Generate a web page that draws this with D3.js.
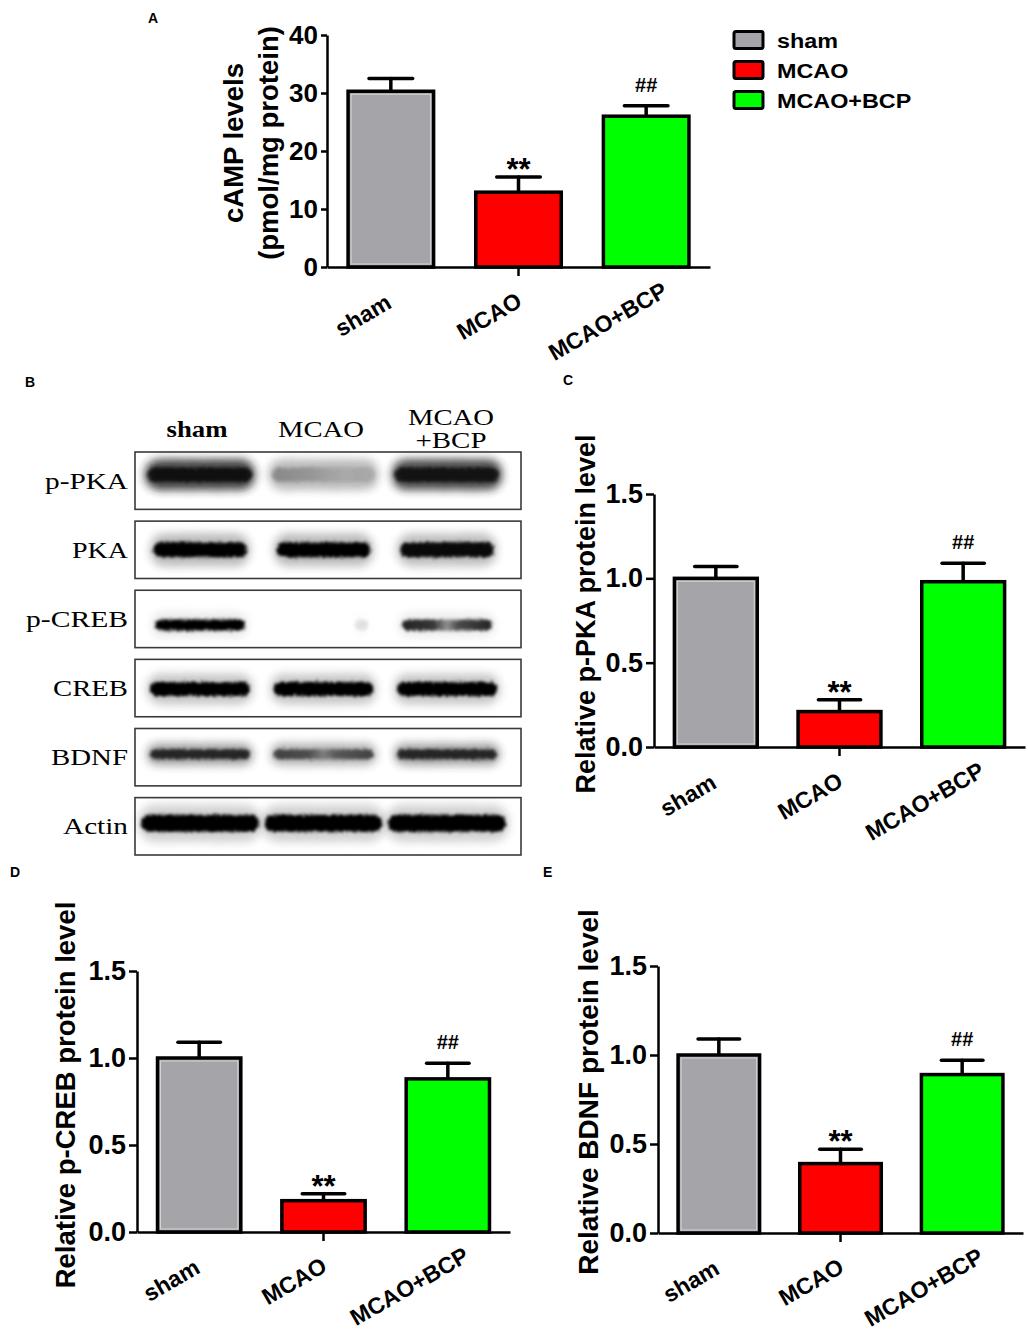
<!DOCTYPE html>
<html><head><meta charset="utf-8">
<script src="https://cdn.jsdelivr.net/npm/d3@7"></script>
<style>
body{margin:0;background:#fff;}
svg{display:block;}
</style></head><body>
<svg id="fig" width="1028" height="1339"></svg>
<script>
// ---------------- DATA ----------------
const groups = ["sham", "MCAO", "MCAO+BCP"];
const groupColors = ["#a5a4a9", "#ff0000", "#00ff00"];
const sigMarks = ["", "**", "##"];

const campMean = [30.3, 12.9, 26.0];
const campSem  = [2.2, 2.6, 1.8];
const campTicks = [0, 10, 20, 30, 40];

const pkaMean = [1.00, 0.21, 0.98];
const pkaSem  = [0.07, 0.07, 0.11];
const crebMean = [1.00, 0.18, 0.88];
const crebSem  = [0.09, 0.04, 0.09];
const bdnfMean = [1.00, 0.39, 0.89];
const bdnfSem  = [0.09, 0.08, 0.08];
const relTicks = [0, 0.5, 1.0, 1.5];

const blotRows = ["p-PKA", "PKA", "p-CREB", "CREB", "BDNF", "Actin"];
const blotLaneLabels = [["sham"], ["MCAO"], ["MCAO", "+BCP"]];
// band darkness (0..1) per row, lanes sham / MCAO / MCAO+BCP
const bandPPKA  = [0.95, 0.35, 0.92];
const bandPKA   = [1.00, 1.00, 0.95];
const bandPCREB = [1.00, 0.10, 0.85];
const bandCREB  = [1.00, 1.00, 1.00];
const bandBDNF  = [0.85, 0.70, 0.85];
const bandActin = [1.00, 1.00, 1.00];
const bandData = [bandPPKA, bandPKA, bandPCREB, bandCREB, bandBDNF, bandActin];

// ---------------- DRAWING ----------------
const SANS = "'Liberation Sans', Arial, Helvetica, sans-serif";
const SERIF = "'Liberation Serif', 'Times New Roman', serif";
const svg = d3.select("#fig");
svg.append("rect").attr("width", 1028).attr("height", 1339).attr("fill", "#fff");

const defs = svg.append("defs");
const f1 = defs.append("filter").attr("id", "bandF").attr("x", "-20%").attr("y", "-150%").attr("width", "140%").attr("height", "400%");
f1.append("feTurbulence").attr("type", "fractalNoise").attr("baseFrequency", "0.55").attr("numOctaves", 2).attr("seed", 3).attr("result", "noise");
f1.append("feDisplacementMap").attr("in", "SourceGraphic").attr("in2", "noise").attr("scale", 6).attr("xChannelSelector", "R").attr("yChannelSelector", "G").attr("result", "disp");
f1.append("feGaussianBlur").attr("in", "disp").attr("stdDeviation", 1.4);
const f2 = defs.append("filter").attr("id", "haloF").attr("x", "-30%").attr("y", "-200%").attr("width", "160%").attr("height", "500%");
f2.append("feTurbulence").attr("type", "fractalNoise").attr("baseFrequency", "0.9").attr("numOctaves", 1).attr("seed", 7).attr("result", "n2");
f2.append("feDisplacementMap").attr("in", "SourceGraphic").attr("in2", "n2").attr("scale", 8).attr("xChannelSelector", "R").attr("yChannelSelector", "G").attr("result", "d2");
f2.append("feGaussianBlur").attr("in", "d2").attr("stdDeviation", 4.5);

// gradients for uneven bands
const fade = defs.append("linearGradient").attr("id", "fadeGrad");
[[0, 1], [0.35, 0.75], [0.7, 0.35], [1, 0.4]].forEach(s => fade.append("stop").attr("offset", s[0]).attr("stop-color", "#111").attr("stop-opacity", s[1]));
const dip = defs.append("linearGradient").attr("id", "dipGrad");
[[0, 1], [0.35, 0.9], [0.5, 0.45], [0.62, 0.8], [1, 1]].forEach(s => dip.append("stop").attr("offset", s[0]).attr("stop-color", "#050505").attr("stop-opacity", s[1]));

function barPanel(cfg) {
  const g = svg.append("g");
  const x = d3.scaleBand().domain(groups).range([cfg.x0, cfg.x1]).paddingInner(0.33).paddingOuter(0.165);
  const y = d3.scaleLinear().domain([0, cfg.max]).range([cfg.yb, cfg.yt]);
  const bw = x.bandwidth();

  // error bars (upper only)
  const eg = g.append("g").attr("stroke", "#000").attr("stroke-width", 3.5).attr("stroke-linecap", "round");
  groups.forEach((d, i) => {
    const cx = x(d) + bw / 2;
    eg.append("line").attr("x1", cx).attr("x2", cx).attr("y1", y(cfg.mean[i])).attr("y2", y(cfg.mean[i] + cfg.sem[i]));
    eg.append("line").attr("x1", cx - bw * 0.255).attr("x2", cx + bw * 0.255)
      .attr("y1", y(cfg.mean[i] + cfg.sem[i])).attr("y2", y(cfg.mean[i] + cfg.sem[i]));
  });

  // bars
  g.selectAll("rect.bar").data(groups).join("rect").attr("class", "bar")
    .attr("x", d => x(d)).attr("width", bw)
    .attr("y", (d, i) => y(cfg.mean[i])).attr("height", (d, i) => y(0) - y(cfg.mean[i]))
    .attr("fill", (d, i) => groupColors[i]).attr("stroke", "#000").attr("stroke-width", 3.5);
  // light inner edge on the grey bar
  g.append("rect").attr("x", x(groups[0]) + 3).attr("y", y(cfg.mean[0]) + 3)
    .attr("width", bw - 6).attr("height", y(0) - y(cfg.mean[0]) - 6)
    .attr("fill", "none").attr("stroke", "#d4d4d6").attr("stroke-width", 1);

  // significance marks
  groups.forEach((d, i) => {
    const m = sigMarks[i];
    if (!m) return;
    const top = y(cfg.mean[i] + cfg.sem[i]);
    g.append("text").attr("x", x(d) + bw / 2)
      .attr("y", m === "**" ? top + 3 : top - 14)
      .attr("text-anchor", "middle")
      .style("font-family", SANS)
      .style("font-weight", "bold")
      .style("font-size", m === "**" ? "31px" : "20px")
      .text(m);
  });

  // y axis
  const gy = g.append("g").attr("transform", `translate(${cfg.x0},0)`)
    .call(d3.axisLeft(y).tickValues(cfg.ticks).tickFormat(cfg.fmt).tickSize(cfg.tick).tickSizeOuter(0).tickPadding(3));
  gy.select(".domain").attr("stroke-width", 2.5);
  gy.selectAll(".tick line").attr("stroke-width", 2.5);
  gy.selectAll(".tick text").style("font-family", SANS).style("font-weight", "bold").style("font-size", cfg.tickFont + "px").attr("fill", "#000");

  // x axis
  const gx = g.append("g").attr("transform", `translate(0,${cfg.yb})`)
    .call(d3.axisBottom(x).tickSize(9).tickSizeOuter(0));
  gx.select(".domain").attr("stroke-width", 2.5);
  gx.selectAll(".tick line").attr("stroke-width", 2.5).attr("opacity", (d, i) => i === 1 ? 1 : 0);
  gx.selectAll(".tick text").each(function () {
    const t = d3.select(this);
    t.attr("x", null).attr("y", null).attr("dy", null)
      .attr("text-anchor", "end").attr("fill", "#000")
      .style("font-family", SANS).style("font-weight", "bold").style("font-size", "23px");
    const L = this.getComputedTextLength();
    t.attr("transform", "translate(-15,50) rotate(-30)").attr("dx", 0.33 * L);
  });

  // y title
  cfg.title.forEach((line, k) => {
    g.append("text")
      .attr("transform", `translate(${cfg.titleX[k]},${cfg.titleY}) rotate(-90)`)
      .attr("text-anchor", "middle")
      .style("font-family", SANS).style("font-weight", "bold").style("font-size", cfg.titleSize + "px")
      .text(line);
  });
}

barPanel({ x0: 327, x1: 710, yt: 35, yb: 267, max: 40, ticks: campTicks, fmt: d3.format("d"),
  mean: campMean, sem: campSem, tick: 6, tickFont: 26,
  title: ["cAMP levels", "(pmol/mg protein)"], titleX: [243, 278], titleY: 143, titleSize: 27.5 });

barPanel({ x0: 654, x1: 1025, yt: 494, yb: 747, max: 1.5, ticks: relTicks, fmt: d3.format(".1f"),
  mean: pkaMean, sem: pkaSem, tick: 8, tickFont: 27,
  title: ["Relative p-PKA protein level"], titleX: [595], titleY: 614, titleSize: 27 });

barPanel({ x0: 137, x1: 510, yt: 971, yb: 1232, max: 1.5, ticks: relTicks, fmt: d3.format(".1f"),
  mean: crebMean, sem: crebSem, tick: 8, tickFont: 27,
  title: ["Relative p-CREB protein level"], titleX: [75], titleY: 1095, titleSize: 27.5 });

barPanel({ x0: 658, x1: 1023, yt: 966, yb: 1233, max: 1.5, ticks: relTicks, fmt: d3.format(".1f"),
  mean: bdnfMean, sem: bdnfSem, tick: 8, tickFont: 27,
  title: ["Relative BDNF protein level"], titleX: [598], titleY: 1092, titleSize: 28 });

// legend
const leg = svg.append("g");
groups.forEach((d, i) => {
  const cy = 40 + i * 30;
  leg.append("rect").attr("x", 734).attr("y", cy - 8.5).attr("width", 29).attr("height", 17).attr("rx", 2)
    .attr("fill", groupColors[i]).attr("stroke", "#000").attr("stroke-width", 3);
  leg.append("text").attr("transform", `translate(777,${cy + 7.5}) scale(1.14,1)`)
    .style("font-family", SANS).style("font-weight", "bold").style("font-size", "20.5px").text(d);
});

// panel letters
[["A", 148, 23], ["B", 25, 387], ["C", 563, 385], ["D", 10, 877], ["E", 543, 877]].forEach(p => {
  svg.append("text").attr("x", p[1]).attr("y", p[2])
    .style("font-family", SANS).style("font-weight", "bold").style("font-size", "14px").text(p[0]);
});

// ---------------- WESTERN BLOT (panel B) ----------------
const blot = svg.append("g");
const rowY = d3.scaleBand().domain(blotRows).range([452, 855]).paddingInner(0.17).paddingOuter(0);
const laneX = d3.scalePoint().domain(groups).range([200, 447]);
// per-row style: band half-width, thickness, vertical offset, halo strength, label width
const rowStyle = {
  "p-PKA":  { hw: 55, th: 14, dy: -6, halo: 0.9, core: 0.8, lw: 83 },
  "PKA":    { hw: 50, th: 15, dy: 0,  halo: 0.3, core: 1,   lw: 56 },
  "p-CREB": { hw: 48, th: 11, dy: 6,  halo: 0.1, core: 1,   lw: 102 },
  "CREB":   { hw: 53, th: 14, dy: 1,  halo: 0.25, core: 1,  lw: 75 },
  "BDNF":   { hw: 53, th: 10, dy: -3, halo: 0.5, core: 0.9, lw: 77 },
  "Actin":  { hw: 62, th: 17, dy: -3, halo: 0.2, core: 1,   lw: 65 }
};
const bandFill = (r, li) => {
  if (r === "p-PKA" && li === 1) return "url(#fadeGrad)";
  if ((r === "p-CREB" && li === 2) || (r === "BDNF" && li === 1)) return "url(#dipGrad)";
  return "#050505";
};

blotRows.forEach((r, ri) => {
  const st = rowStyle[r];
  const y0 = rowY(r), h = rowY.bandwidth();
  const cy = y0 + h / 2 + st.dy;
  const vals = bandData[ri];
  groups.forEach((gname, li) => {
    const v = vals[li];
    let cx = laneX(gname);
    let w = st.hw;
    if (r === "p-CREB" && li === 1) { w = 10; cx += 38; }
    // halo
    blot.append("rect").attr("x", cx - w).attr("y", cy - st.th * 1.1).attr("width", 2 * w).attr("height", st.th * 2.2)
      .attr("rx", st.th).attr("fill", "#222").attr("opacity", st.halo * v).attr("filter", "url(#haloF)");
    // core
    blot.append("rect").attr("x", cx - w + 3).attr("y", cy - st.th / 2).attr("width", 2 * w - 6).attr("height", st.th)
      .attr("rx", st.th / 2).attr("fill", bandFill(r, li)).attr("opacity", Math.min(1, v * st.core)).attr("filter", "url(#bandF)");
  });
  // frame
  blot.append("rect").attr("x", 135).attr("y", y0).attr("width", 386).attr("height", h)
    .attr("fill", "none").attr("stroke", "#3a3a3a").attr("stroke-width", 1.6);
  // row label
  blot.append("text").attr("x", 128).attr("y", y0 + h / 2 + 8).attr("text-anchor", "end")
    .attr("textLength", st.lw).attr("lengthAdjust", "spacingAndGlyphs")
    .style("font-family", SERIF).style("font-size", "24px").text(r);
});

// lane labels
const laneLabelX = [197, 321, 451];
const laneLabelW = [[61], [86], [86, 71]];
blotLaneLabels.forEach((lines, i) => {
  lines.forEach((ln, k) => {
    const yy = lines.length === 1 ? 437 : 425 + k * 23;
    blot.append("text").attr("x", laneLabelX[i]).attr("y", yy).attr("text-anchor", "middle")
      .attr("textLength", laneLabelW[i][k]).attr("lengthAdjust", "spacingAndGlyphs")
      .style("font-family", SERIF).style("font-size", "23px").style("font-weight", i === 0 ? "bold" : "normal")
      .text(ln);
  });
});
</script>
</body></html>
